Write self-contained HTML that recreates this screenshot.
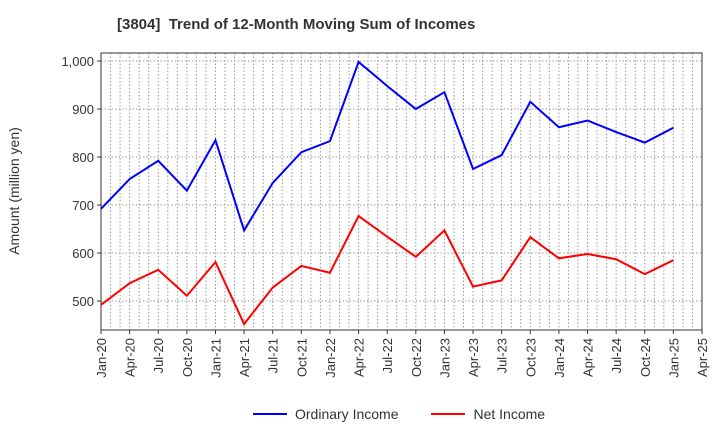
<!DOCTYPE html>
<html><head><meta charset="utf-8"><style>body{margin:0;background:#fff;font-family:"Liberation Sans",sans-serif}</style></head>
<body>
<svg id="c" width="720" height="440" font-family="Liberation Sans, sans-serif"></svg>
<script>
const categories=["Jan-20","Apr-20","Jul-20","Oct-20","Jan-21","Apr-21","Jul-21","Oct-21","Jan-22","Apr-22","Jul-22","Oct-22","Jan-23","Apr-23","Jul-23","Oct-23","Jan-24","Apr-24","Jul-24","Oct-24","Jan-25","Apr-25"];
const ordinaryIncome=[692,754,792,730,835,647,746,810,833,998,948,900,935,775,804,915,862,876,852,830,861];
const netIncome=[492,537,565,511,581,452,528,573,559,677,634,592,647,530,543,633,589,598,587,556,585];
const yTicks=[500,600,700,800,900,1000];
const yTickLabels=["500","600","700","800","900","1,000"];
const svg=document.getElementById('c');const NS='http://www.w3.org/2000/svg';
const L=101,R=702,T=53,B=330;
const x=i=>L+i*(R-L)/21;
const y=v=>61+(1000-v)*0.48;
function mk(t,a,p){const e=document.createElementNS(NS,t);for(const k in a)e.setAttribute(k,a[k]);(p||svg).appendChild(e);return e;}
for(let m=1;m<63;m++){const xx=L+m*(R-L)/63;const g=mk('line',{x1:xx,x2:xx,y1:T,y2:B,stroke:'#999','stroke-dasharray':'1.5,2','stroke-width':1});

}
yTicks.forEach((v,i)=>{const g=mk('line',{x1:L,x2:R,y1:y(v),y2:y(v),stroke:'#999','stroke-dasharray':'1.5,2'});


mk('line',{x1:L-4,x2:L,y1:y(v),y2:y(v),stroke:'#333'});
const t=mk('text',{x:L-7,y:y(v)+5,'text-anchor':'end','font-size':13,fill:'#333'});t.textContent=yTickLabels[i];

});
categories.forEach((c,i)=>{mk('line',{x1:x(i),x2:x(i),y1:B,y2:B+4,stroke:'#333'});
const t=mk('text',{transform:`translate(${x(i)+5},${B+8}) rotate(-90)`,'text-anchor':'end','font-size':13,fill:'#333'});t.textContent=c;

});
const fr=mk('rect',{x:L,y:T,width:R-L,height:B-T,fill:'none',stroke:'#333'});


function line(d,col,name){const p=mk('polyline',{points:d.map((v,i)=>x(i)+','+y(v)).join(' '),fill:'none',stroke:col,'stroke-width':2});

}
line(ordinaryIncome,'#0000ff','ordinary-income-line');
line(netIncome,'#ff0000','net-income-line');
</script>
<div style="position:absolute;left:0;top:0;width:720px;height:440px;pointer-events:none">
<div style="position:absolute;left:117px;top:16px;font-size:15px;font-weight:bold;color:#333">[3804]&nbsp; Trend of 12-Month Moving Sum of Incomes</div>
<div style="position:absolute;left:14px;top:191px;width:0;height:0"><div style="position:absolute;transform:translate(-50%,-50%) rotate(-90deg);white-space:nowrap;font-size:14px;color:#333">Amount (million yen)</div></div>
<div style="position:absolute;top:406px;left:253px;font-size:14px;color:#333;display:flex;align-items:center">
<span style="display:flex;align-items:center"><span style="display:inline-block;width:34px;height:2px;background:#00f;margin-right:8px"></span>Ordinary Income</span>
<span style="display:flex;align-items:center;margin-left:33px"><span style="display:inline-block;width:34px;height:2px;background:#f00;margin-right:8px"></span>Net Income</span>
</div></div>
</body></html>
